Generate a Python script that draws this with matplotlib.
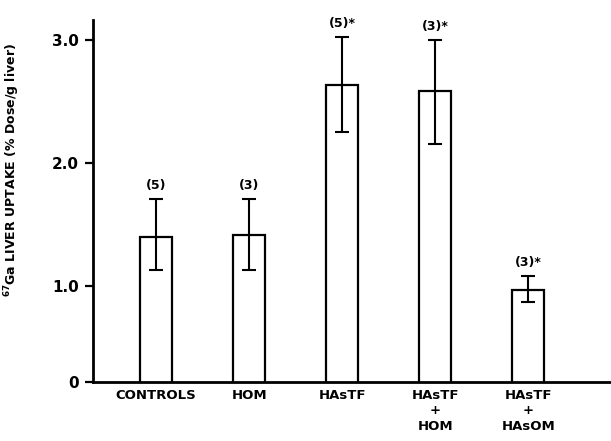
import matplotlib
matplotlib.use("Agg")
import matplotlib.pyplot as plt

groups = ["CONTROLS", "HOM", "HAsTF", "HAsTF\n+\nHOM", "HAsTF\n+\nHAsOM"]
uptake = [1.40, 1.41, 2.63, 2.58, 0.97]
err_hi = [0.31, 0.30, 0.39, 0.42, 0.11]
err_lo = [0.27, 0.28, 0.38, 0.43, 0.10]
n_labels = ["(5)", "(3)", "(5)*", "(3)*", "(3)*"]

plt.rcParams["font.family"] = ["DejaVu Sans"]
plt.rcParams["font.weight"] = "bold"
plt.rcParams["mathtext.default"] = "bf"

fig = plt.figure(figsize=(6.11, 4.41), dpi=100)
ax = fig.add_axes([93 / 611, 59 / 441, 518 / 611, 362 / 441])

x = list(range(len(groups)))
ax.bar(x, uptake, width=0.345, color="white", edgecolor="black", linewidth=1.6,
       yerr=[err_lo, err_hi], capsize=5,
       error_kw=dict(elinewidth=1.5, capthick=1.5, ecolor="black"))

for xi, v, e, lab in zip(x, uptake, err_hi, n_labels):
    ax.annotate(lab, (xi, v + e), xytext=(0, 5), textcoords="offset points",
                ha="center", va="bottom", fontsize=9, fontweight="bold")

y0 = 0.22
ax.set_ylim(y0, 3.16)
ax.set_xlim(-0.68, 4.89)
ax.set_yticks([y0, 1, 2, 3])
ax.set_yticklabels(["0", "1.0", "2.0", "3.0"], fontsize=11, fontweight="bold")
ax.set_xticks(x)
ax.set_xticklabels(groups, fontsize=9.5, fontweight="bold", linespacing=1.25)
ax.tick_params(axis="x", length=0, pad=5)
ax.tick_params(axis="y", direction="out", length=6, width=1.6, pad=4)

for side in ["top", "right"]:
    ax.spines[side].set_visible(False)
for side in ["left", "bottom"]:
    ax.spines[side].set_linewidth(2)

ax.set_ylabel(r"$^{67}$Ga LIVER UPTAKE (% Dose/g liver)", fontsize=9, fontweight="bold")
ax.yaxis.set_label_coords(-0.138, 0.585)

fig.savefig("out.png", dpi=100)
